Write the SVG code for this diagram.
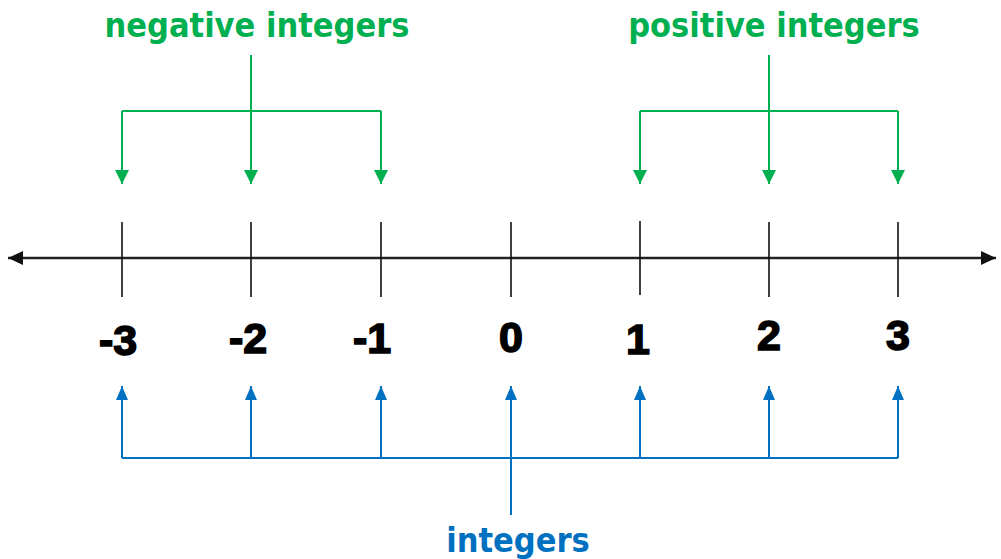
<svg xmlns="http://www.w3.org/2000/svg" width="1001" height="559" viewBox="0 0 1001 559">
  <style>
    .axis { stroke: #222; stroke-width: 2.5; fill: none; }
    .tick { stroke: #111; stroke-width: 1.6; }
    .num { font-family: "Liberation Sans", Arial, sans-serif; font-weight: bold; font-size: 43px; fill: #000; stroke: #000; stroke-width: 1.6; text-anchor: middle; }
    .green { stroke: #00b050; stroke-width: 2; fill: none; }
    .blue { stroke: #0070c0; stroke-width: 2; fill: none; }
    .glabel { font-family: "DejaVu Sans Condensed", "DejaVu Sans", sans-serif; font-weight: bold; font-size: 34px; fill: #00b050; text-anchor: middle; }
    .blabel { font-family: "DejaVu Sans Condensed", "DejaVu Sans", sans-serif; font-weight: bold; font-size: 34px; fill: #0070c0; text-anchor: middle; }
  </style>
  <defs>
    <marker id="ga" viewBox="0 0 14 14" refX="14" refY="7" markerWidth="14" markerHeight="14" markerUnits="userSpaceOnUse" orient="auto">
      <path d="M0,0 L14,7 L0,14 Z" fill="#00b050"/>
    </marker>
    <marker id="ba" viewBox="0 0 14 12" refX="14" refY="6" markerWidth="14" markerHeight="12" markerUnits="userSpaceOnUse" orient="auto">
      <path d="M0,0 L14,6 L0,12 Z" fill="#0070c0"/>
    </marker>
    <marker id="ka" viewBox="0 0 15 14" refX="15" refY="7" markerWidth="15" markerHeight="14" markerUnits="userSpaceOnUse" orient="auto">
      <path d="M0,0 L15,7 L0,14 Z" fill="#111"/>
    </marker>
  </defs>

  <!-- number line -->
  <g id="number-line">
    <line class="axis" x1="510" y1="258" x2="996" y2="258" marker-end="url(#ka)"/>
    <line class="axis" x1="510" y1="258" x2="8" y2="258" marker-end="url(#ka)"/>
    <line class="tick" x1="122" y1="222" x2="122" y2="297"/>
    <line class="tick" x1="251" y1="222" x2="251" y2="297"/>
    <line class="tick" x1="381" y1="222" x2="381" y2="297"/>
    <line class="tick" x1="511" y1="222" x2="511" y2="297"/>
    <line class="tick" x1="640" y1="221" x2="640" y2="295"/>
    <line class="tick" x1="769" y1="222" x2="769" y2="297"/>
    <line class="tick" x1="898" y1="222" x2="898" y2="297"/>
  </g>

  <g id="n-3"><text class="num" x="118" y="355">-3</text></g>
  <g id="n-2"><text class="num" x="248" y="353">-2</text></g>
  <g id="n-1"><text class="num" x="372" y="353">-1</text></g>
  <g id="n0"><text class="num" x="511" y="352">0</text></g>
  <g id="n1"><text class="num" x="638" y="354">1</text></g>
  <g id="n2"><text class="num" x="769" y="350">2</text></g>
  <g id="n3"><text class="num" x="898" y="350">3</text></g>

  <g id="negative-integers"><text class="glabel" x="257" y="37">negative integers</text></g>
  <g id="positive-integers"><text class="glabel" x="774" y="37">positive integers</text></g>
  <g id="integers"><text class="blabel" x="518" y="552">integers</text></g>

  <g id="connectors">
    <!-- negative bracket -->
    <path class="green" d="M251,55 V111"/>
    <path class="green" d="M122,111 H381"/>
    <path class="green" d="M122,111 V184" marker-end="url(#ga)"/>
    <path class="green" d="M251,111 V184" marker-end="url(#ga)"/>
    <path class="green" d="M381,111 V184" marker-end="url(#ga)"/>
    <!-- positive bracket -->
    <path class="green" d="M769,55 V111"/>
    <path class="green" d="M640,111 H898"/>
    <path class="green" d="M640,111 V184" marker-end="url(#ga)"/>
    <path class="green" d="M769,111 V184" marker-end="url(#ga)"/>
    <path class="green" d="M898,111 V184" marker-end="url(#ga)"/>
    <!-- integers bracket -->
    <path class="blue" d="M511,515 V458"/>
    <path class="blue" d="M122,458 H898"/>
    <path class="blue" d="M122,458 V386" marker-end="url(#ba)"/>
    <path class="blue" d="M251,458 V386" marker-end="url(#ba)"/>
    <path class="blue" d="M381,458 V386" marker-end="url(#ba)"/>
    <path class="blue" d="M511,458 V386" marker-end="url(#ba)"/>
    <path class="blue" d="M640,458 V386" marker-end="url(#ba)"/>
    <path class="blue" d="M769,458 V386" marker-end="url(#ba)"/>
    <path class="blue" d="M898,458 V386" marker-end="url(#ba)"/>
  </g>
</svg>
